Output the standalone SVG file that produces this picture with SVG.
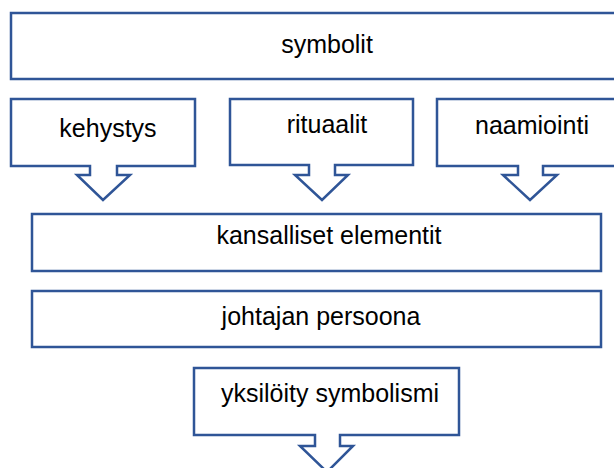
<svg xmlns="http://www.w3.org/2000/svg" width="614" height="468" viewBox="0 0 614 468">
<style>
.b{fill:#fff;stroke:#2F5597;stroke-width:2.5;stroke-linejoin:miter}
.t{font-family:"Liberation Sans",Arial,sans-serif;font-size:25px;fill:#000;text-anchor:middle}
</style>
<rect width="614" height="468" fill="#fff"/>
<g id="symbolit"><rect class="b" x="11" y="13" width="612" height="66"/><text class="t" x="327" y="53">symbolit</text></g>
<g id="kehystys"><path class="b" d="M11,99 H195 V166 H117 V175 H130 L103,200 L77,175 H90 V166 H11 Z"/><text class="t" x="108" y="137">kehystys</text></g>
<g id="rituaalit"><path class="b" d="M230,99 H413 V165 H335 V175 H348 L322,200 L295,175 H309 V165 H230 Z"/><text class="t" x="327" y="133">rituaalit</text></g>
<g id="naamiointi"><path class="b" d="M437,99 H622 V166 H543 V175 H557 L530,200 L503,175 H518 V166 H437 Z"/><text class="t" x="532" y="134">naamiointi</text></g>
<g id="kansalliset"><rect class="b" x="32" y="214" width="569" height="57"/><text class="t" x="329" y="244">kansalliset elementit</text></g>
<g id="johtajan"><rect class="b" x="32" y="291" width="569" height="56"/><text class="t" x="321" y="325">johtajan persoona</text></g>
<g id="yksiloity"><path class="b" d="M194,368 H459 V435 H340 V446 H353 L327,472 L300,446 H315 V435 H194 Z"/><text class="t" x="330" y="402">yksilöity symbolismi</text></g>
<g id="connectors"></g>
</svg>
